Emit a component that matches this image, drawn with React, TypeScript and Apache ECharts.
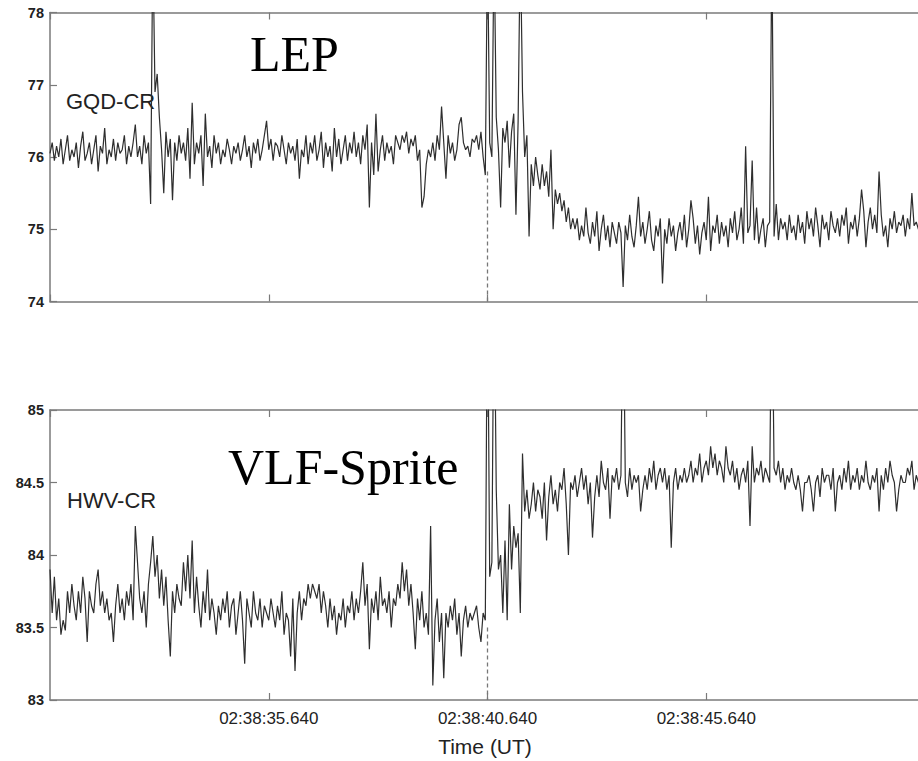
import React, { useEffect, useRef } from "react";
import * as echarts from "echarts";

// sample spacing (seconds) and axis origin 02:38:30.640
const dt = 0.05;
const tStartSec = 30.64;
const xTickValues = [5, 10, 15];
const xTickLabels = ["02:38:35.640", "02:38:40.640", "02:38:45.640"];
const eventTime = 10;

// LEP (GQD-CR) amplitude
const gqdValues = [
  76.05, 76.2, 75.95, 76.15, 76.0, 76.25, 75.9, 76.1, 76.3, 75.95, 76.1, 76.0, 76.2, 75.85, 76.15, 76.35, 75.95, 76.05, 76.2, 75.9,
  76.1, 76.3, 75.8, 76.15, 76.05, 76.4, 75.9, 76.1, 76.0, 76.25, 75.95, 76.2, 76.05, 76.1, 76.3, 75.9, 76.15, 76.0, 76.2, 76.45,
  76.0, 76.15, 75.9, 76.3, 76.05, 76.2, 75.35, 79, 76.9, 77.15, 76.55, 76.1, 75.5, 76.35, 76.0, 76.25, 75.4, 76.2, 75.95, 76.3,
  76.05, 76.2, 75.95, 76.4, 75.7, 76.75, 75.9, 76.2, 76.05, 76.3, 75.6, 76.6, 76.0, 76.15, 75.85, 76.3, 76.05, 76.2, 75.9, 76.1,
  76.0, 76.25, 76.1, 75.9, 76.15, 76.05, 76.2, 75.95, 76.1, 76.3, 76.0, 76.15, 75.85, 76.2, 76.05, 76.25, 75.95, 76.1, 76.3, 76.5,
  76.1, 76.25, 75.95, 76.2, 76.15, 76.0, 76.3, 76.1, 75.9, 76.2, 76.05, 76.15, 75.95, 76.25, 75.7, 76.1, 76.0, 76.3, 75.9, 76.2,
  76.05, 76.3, 75.95, 76.1, 76.35, 75.85, 76.2, 76.0, 76.15, 75.8, 76.4, 76.0, 76.25, 75.9, 76.1, 76.3, 75.95, 76.2, 76.05, 76.35,
  76.0, 76.2, 75.9, 76.3, 76.1, 76.45, 75.3, 76.2, 75.75, 76.6, 75.8, 76.1, 76.3, 75.95, 76.2, 76.05, 76.15, 75.9, 76.3, 76.2,
  76.1, 76.3, 76.2, 76.35, 76.05, 76.25, 76.15, 76.3, 75.95, 76.1, 75.3, 75.45, 75.9, 76.1, 76.0, 76.2, 75.95, 76.3, 76.1, 76.7,
  76.2, 75.7, 76.3, 76.05, 76.2, 75.95, 76.1, 76.45, 76.55, 76.2, 76.1, 76.15, 76.0, 76.25, 76.2, 76.3, 76.1, 76.35, 76.0, 75.75,
  79, 76.2, 76.0, 79, 76.55, 76.1, 75.3, 76.4, 76.2, 76.5, 75.85, 76.35, 76.6, 75.2, 76.5, 79, 76.9, 76.0, 76.3, 74.9,
  75.9, 75.6, 76.0, 75.75, 75.55, 75.9, 75.6, 75.8, 75.45, 76.1, 75.0, 75.55, 75.35, 75.5, 75.25, 75.4, 75.1, 75.3, 75.0, 75.15,
  75.0, 75.15, 74.85, 75.05, 74.9, 75.3, 74.95, 74.8, 75.1, 74.9, 75.25, 74.7, 75.0, 75.2, 74.85, 75.05, 74.75, 75.1, 74.95, 74.8,
  75.1, 74.95, 74.2, 75.05, 74.85, 75.2, 74.9, 74.75, 75.05, 75.45, 74.9, 75.1, 74.8, 75.0, 75.25, 74.85, 74.7, 75.05, 74.9, 75.15,
  74.25, 75.0, 74.8, 75.15, 74.9, 75.05, 74.7, 74.95, 75.1, 74.85, 75.2, 74.75, 75.0, 75.4, 75.15, 74.8, 75.05, 74.65, 74.95, 75.1,
  74.85, 75.45, 74.7, 75.05, 74.95, 75.2, 74.8, 75.1, 74.9, 75.05, 74.75, 75.15, 74.95, 75.25, 74.85, 75.0, 75.3, 74.8, 76.15, 74.95,
  75.05, 75.95, 74.85, 75.3, 74.8, 75.0, 75.15, 74.75, 75.05, 75.1, 79, 74.9, 75.35, 74.85, 75.15, 75.0, 75.1, 74.85, 75.2, 74.95,
  75.05, 74.85, 75.2, 74.95, 75.1, 74.8, 75.25, 75.0, 75.15, 74.9, 75.3, 75.05, 74.75, 75.2, 75.0, 75.1, 74.85, 75.25, 75.05, 74.95,
  75.15, 74.9, 75.2, 75.05, 75.3, 74.8, 75.1, 75.0, 75.2, 74.9, 75.15, 75.55, 75.25, 74.75, 75.1, 75.3, 75.0, 75.2, 74.95, 75.8,
  75.2, 74.9, 75.05, 74.75, 75.15, 75.0, 75.25, 74.95, 75.1, 75.05, 75.2, 74.9, 75.15, 75.0, 75.5, 75.05, 75.1, 75.0, 75.15, 75.05,
];

// VLF-Sprite (HWV-CR) amplitude
const hwvValues = [
  83.9, 83.6, 83.85, 83.55, 83.7, 83.45, 83.55, 83.48, 83.75, 83.6, 83.8, 83.65, 83.55, 83.75, 83.6, 83.85, 83.7, 83.4, 83.75, 83.65,
  83.6, 83.8, 83.9, 83.65, 83.75, 83.6, 83.7, 83.55, 83.6, 83.4, 83.65, 83.8, 83.6, 83.7, 83.55, 83.75, 83.65, 83.8, 83.55, 84.2,
  83.95, 83.7, 83.6, 83.75, 83.5, 83.8, 83.95, 84.13, 83.85, 84.0, 83.7, 83.9, 83.65, 83.85, 83.55, 83.3, 83.75, 83.6, 83.8, 83.7,
  83.65, 83.95, 83.75, 84.0, 83.7, 84.1, 83.6, 83.85, 83.65, 83.5, 83.75, 83.6, 83.9, 83.55, 83.7, 83.6, 83.45, 83.65, 83.55, 83.7,
  83.6, 83.75, 83.5, 83.65, 83.7, 83.45, 83.6, 83.75, 83.55, 83.25, 83.7, 83.6, 83.5, 83.75, 83.6, 83.55, 83.7, 83.5, 83.65, 83.6,
  83.55, 83.7, 83.6, 83.5, 83.65, 83.55, 83.75, 83.45, 83.6, 83.55, 83.3, 83.7, 83.2, 83.6, 83.75, 83.55, 83.7, 83.65, 83.8, 83.7,
  83.8, 83.75, 83.7, 83.8, 83.6, 83.75, 83.65, 83.5, 83.7, 83.55, 83.65, 83.45, 83.6, 83.55, 83.7, 83.5, 83.65, 83.6, 83.75, 83.55,
  83.7, 83.6, 83.75, 83.95, 83.65, 83.8, 83.35, 83.7, 83.6, 83.75, 83.55, 83.85, 83.65, 83.7, 83.6, 83.75, 83.5, 83.7, 83.65, 83.8,
  83.7, 83.95, 83.75, 83.9, 83.65, 83.8, 83.6, 83.35, 83.7, 83.55, 83.75, 83.5, 83.6, 83.45, 84.2, 83.1, 83.55, 83.7, 83.4, 83.6,
  83.15, 83.6, 83.5, 83.65, 83.55, 83.7, 83.45, 83.6, 83.3, 83.55, 83.65, 83.5, 83.6, 83.55, 83.6, 83.65, 83.5, 83.4, 83.6, 83.55,
  86, 83.85, 83.95, 86, 84.45, 83.9, 84.0, 83.6, 84.1, 83.55, 84.35, 83.9, 84.2, 84.05, 84.15, 83.6, 84.7, 84.3, 84.45, 84.25,
  84.35, 84.5, 84.3, 84.45, 84.4, 84.25, 84.5, 84.1, 84.4, 84.55, 84.35, 84.45, 84.3, 84.5, 84.45, 84.6, 84.35, 84.0, 84.5, 84.45,
  84.55, 84.4, 84.5, 84.6, 84.45, 84.55, 84.35, 84.5, 84.12, 84.4, 84.55, 84.4, 84.65, 84.5, 84.45, 84.6, 84.25, 84.55, 84.5, 84.6,
  84.45, 84.55, 86, 84.5, 84.4, 84.6, 84.45, 84.55, 84.5, 84.55, 84.3, 84.45, 84.55, 84.45, 84.6, 84.5, 84.65, 84.45, 84.55, 84.6,
  84.5, 84.6, 84.45, 84.55, 84.05, 84.5, 84.6, 84.45, 84.55, 84.5, 84.6, 84.5, 84.55, 84.65, 84.5, 84.6, 84.55, 84.7, 84.5, 84.6,
  84.65, 84.55, 84.75, 84.6, 84.7, 84.55, 84.65, 84.6, 84.5, 84.75, 84.6, 84.55, 84.65, 84.5, 84.6, 84.45, 84.55, 84.6, 84.5, 84.65,
  84.2, 84.75, 84.5, 84.6, 84.55, 84.65, 84.5, 84.6, 84.55, 84.5, 86, 84.6, 84.55, 84.65, 84.5, 84.6, 84.45, 84.55, 84.5, 84.6,
  84.5, 84.45, 84.55, 84.45, 84.3, 84.5, 84.5, 84.55, 84.45, 84.3, 84.5, 84.55, 84.4, 84.6, 84.5, 84.55, 84.55, 84.45, 84.6, 84.3,
  84.5, 84.55, 84.45, 84.6, 84.5, 84.65, 84.45, 84.55, 84.5, 84.6, 84.45, 84.55, 84.5, 84.65, 84.5, 84.45, 84.55, 84.5, 84.6, 84.3,
  84.55, 84.45, 84.6, 84.5, 84.65, 84.55, 84.5, 84.3, 84.45, 84.55, 84.5, 84.5, 84.6, 84.55, 84.65, 84.45, 84.55, 84.5, 84.6, 84.45,
];

// dashed event-marker extents [start value, axis bottom]
const gqdMarker = [75.8, 74];
const hwvMarker = [83.5, 83];

const axisColor = "#7a7a7a";
const textColor = "#222";
const sans = "Arial, 'Liberation Sans', Helvetica, sans-serif";
const serif = "'Times New Roman', 'Liberation Serif', serif";

function fmtTime(v: number): string {
  const i = xTickValues.indexOf(Math.round(v * 1000) / 1000);
  return i >= 0 ? xTickLabels[i] : "";
}

function makeX(gridIndex: number, position: "top" | "bottom", labels: boolean) {
  return {
    type: "value",
    gridIndex,
    position,
    min: 0,
    max: 20,
    interval: 5,
    axisLine: { show: true, onZero: false, lineStyle: { color: axisColor, width: 1.5 } },
    axisTick: { show: true, inside: true, length: 7, lineStyle: { color: axisColor, width: 1.2 } },
    splitLine: { show: false },
    axisLabel: {
      show: labels,
      formatter: fmtTime,
      margin: 10,
      fontSize: 17,
      color: textColor,
      fontFamily: sans,
      showMinLabel: false,
      showMaxLabel: false,
    },
  };
}

function makeY(gridIndex: number, position: "left" | "right", min: number, max: number, interval: number, labels: boolean) {
  return {
    type: "value",
    gridIndex,
    position,
    min,
    max,
    interval,
    axisLine: { show: true, onZero: false, lineStyle: { color: axisColor, width: 1.5 } },
    axisTick: { show: true, inside: true, length: 7, lineStyle: { color: axisColor, width: 1.2 } },
    splitLine: { show: false },
    axisLabel: {
      show: labels,
      margin: 6,
      fontSize: 14.5,
      fontWeight: "bold",
      color: textColor,
      fontFamily: sans,
    },
  };
}

export default function App() {
  const ref = useRef<HTMLDivElement>(null);
  useEffect(() => {
    if (!ref.current) return;
    const chart = echarts.init(ref.current, undefined, { renderer: "svg" });
    const toPairs = (vals: number[]) => vals.map((v, i) => [i * dt, v]);
    const lineStyle = { color: "#2e2e2e", width: 1.2 };
    chart.setOption({
      animation: false,
      backgroundColor: "#ffffff",
      grid: [
        { left: 50, top: 12.5, height: 289, width: 875, outerBoundsMode: "none", containLabel: false },
        { left: 50, top: 410, height: 290, width: 875, outerBoundsMode: "none", containLabel: false },
      ],
      xAxis: [
        makeX(0, "bottom", false),
        makeX(0, "top", false),
        makeX(1, "bottom", true),
        makeX(1, "top", false),
      ],
      yAxis: [
        makeY(0, "left", 74, 78, 1, true),
        makeY(0, "right", 74, 78, 1, false),
        makeY(1, "left", 83, 85, 0.5, true),
        makeY(1, "right", 83, 85, 0.5, false),
      ],
      series: [
        {
          type: "line",
          xAxisIndex: 0,
          yAxisIndex: 0,
          data: [[eventTime, gqdMarker[0]], [eventTime, gqdMarker[1]]],
          showSymbol: false,
          lineStyle: { color: "#777", width: 1.3, type: [4, 3] },
          silent: true,
        },
        {
          type: "line",
          xAxisIndex: 0,
          yAxisIndex: 0,
          data: toPairs(gqdValues),
          showSymbol: false,
          lineStyle,
          clip: true,
        },
        {
          type: "line",
          xAxisIndex: 2,
          yAxisIndex: 2,
          data: [[eventTime, hwvMarker[0]], [eventTime, hwvMarker[1]]],
          showSymbol: false,
          lineStyle: { color: "#777", width: 1.3, type: [4, 3] },
          silent: true,
        },
        {
          type: "line",
          xAxisIndex: 2,
          yAxisIndex: 2,
          data: toPairs(hwvValues),
          showSymbol: false,
          lineStyle,
          clip: true,
        },
      ],
      graphic: [
        {
          type: "text",
          left: 250,
          top: 29,
          style: { text: "LEP", font: `50px ${serif}`, fill: "#000" },
        },
        {
          type: "text",
          left: 228,
          top: 442,
          style: { text: "VLF-Sprite", font: `50px ${serif}`, fill: "#000" },
        },
        {
          type: "text",
          left: 66,
          top: 90,
          style: { text: "GQD-CR", font: `22px ${sans}`, fill: "#222" },
        },
        {
          type: "text",
          left: 67,
          top: 489,
          style: { text: "HWV-CR", font: `22px ${sans}`, fill: "#222" },
        },
        {
          type: "text",
          x: 485,
          y: 746,
          style: {
            text: "Time (UT)",
            font: `21px ${sans}`,
            fill: "#222",
            textAlign: "center",
            textVerticalAlign: "middle",
          },
        },
      ],
    });
    return () => chart.dispose();
  }, []);
  return (
    <div
      ref={ref}
      style={{ position: "absolute", left: 0, top: 0, width: 918, height: 761, background: "#fff" }}
    />
  );
}
